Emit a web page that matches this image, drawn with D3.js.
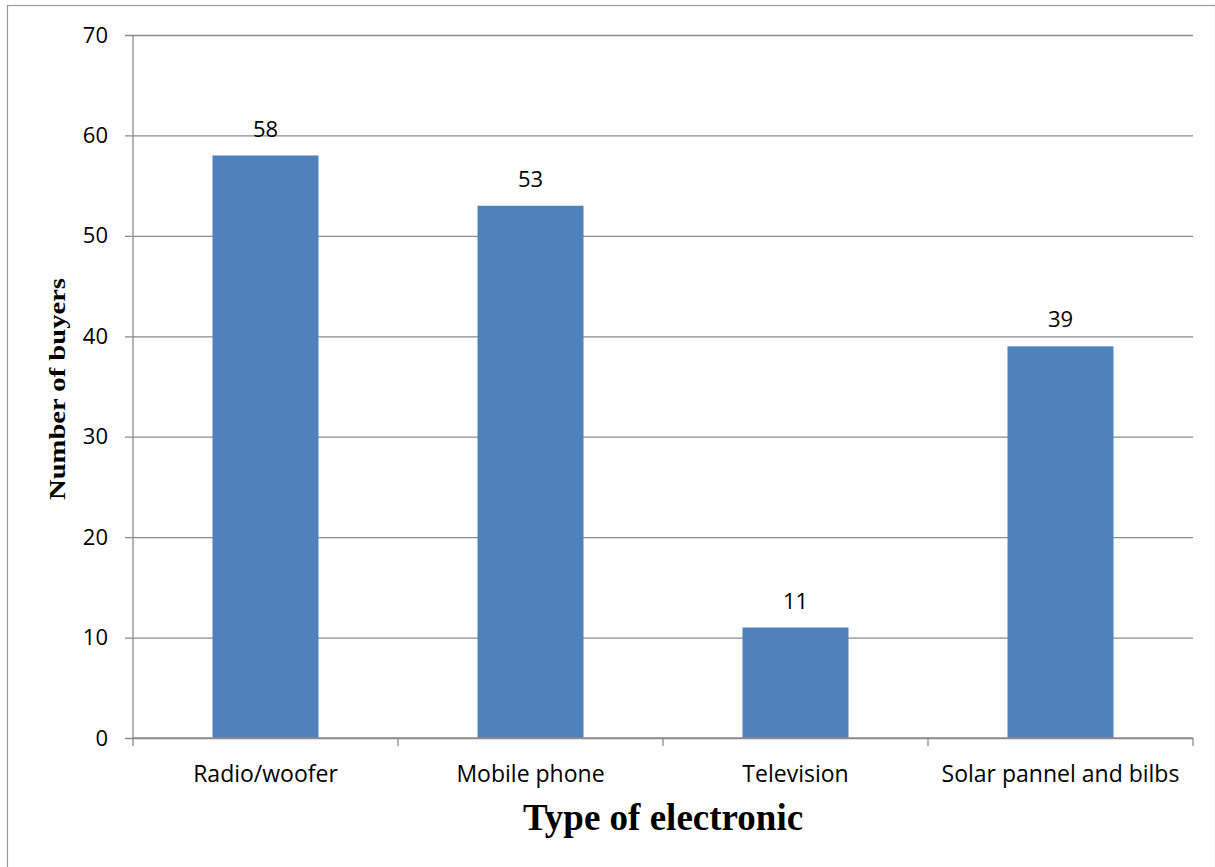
<!DOCTYPE html>
<html>
<head>
<meta charset="utf-8">
<script src="https://cdn.jsdelivr.net/npm/d3@7"></script>
<style>
  html, body { margin: 0; padding: 0; background: #fff; }
  svg { display: block; }
</style>
</head>
<body>
<svg id="chart" width="1215" height="867"></svg>
<script>
// Buyers by type of electronic
const categories = ["Radio/woofer", "Mobile phone", "Television", "Solar pannel and bilbs"];
const buyers = [58, 53, 11, 39];
const yTicks = [0, 10, 20, 30, 40, 50, 60, 70];

const svg = d3.select("#chart");
const W = 1215, H = 867;
const margin = { left: 133, right: 22, top: 35, bottom: 129 };
const plotW = W - margin.left - margin.right;
const plotH = H - margin.top - margin.bottom;

const tickFont = "'Open Sans', Lato, sans-serif";
const serif = "'Liberation Serif', 'Times New Roman', serif";
const gridColor = "#8c8c8c";

// Outer frame
svg.append("rect")
  .attr("x", 7.5).attr("y", 5.5)
  .attr("width", W - 7).attr("height", H)
  .attr("fill", "none").attr("stroke", "#9a9a9a").attr("stroke-width", 1.2);

const g = svg.append("g").attr("transform", `translate(${margin.left},${margin.top})`);

const x = d3.scaleBand().domain(categories).range([0, plotW]).paddingInner(0.6).paddingOuter(0.3);
const xBand = d3.scaleBand().domain(categories).range([0, plotW]);
const y = d3.scaleLinear().domain([0, 70]).range([plotH, 0]);

// Horizontal gridlines with left ticks
const yAxis = d3.axisLeft(y).tickValues(yTicks).tickSize(-plotW).tickPadding(25);
const yg = g.append("g").call(yAxis);
yg.select(".domain").remove();
yg.selectAll(".tick line").attr("stroke", gridColor).attr("stroke-width", 1.3).attr("x1", -8);
yg.selectAll(".tick text")
  .attr("font-family", tickFont).attr("font-size", 22).attr("fill", "#000");

// Vertical axis line
g.append("line").attr("x1", 0).attr("x2", 0).attr("y1", 0).attr("y2", plotH)
  .attr("stroke", gridColor).attr("stroke-width", 1.3);

// Bars
g.selectAll("rect.bar").data(buyers).enter().append("rect")
  .attr("class", "bar")
  .attr("x", (d, i) => x(categories[i]))
  .attr("width", x.bandwidth())
  .attr("y", d => y(d))
  .attr("height", d => plotH - y(d))
  .attr("fill", "#4f81bd");

// Value labels
g.selectAll("text.val").data(buyers).enter().append("text")
  .attr("class", "val")
  .attr("x", (d, i) => x(categories[i]) + x.bandwidth() / 2)
  .attr("y", d => y(d) - 19)
  .attr("text-anchor", "middle")
  .attr("font-family", tickFont).attr("font-size", 22).attr("fill", "#000")
  .text(d => d);

// Category axis with boundary ticks
g.append("line").attr("x1", 0).attr("x2", plotW).attr("y1", plotH).attr("y2", plotH)
  .attr("stroke", gridColor).attr("stroke-width", 1.3);
const bounds = categories.map(c => xBand(c)).concat([plotW]);
g.selectAll("line.xtick").data(bounds).enter().append("line")
  .attr("class", "xtick")
  .attr("x1", d => d).attr("x2", d => d)
  .attr("y1", plotH).attr("y2", plotH + 8)
  .attr("stroke", gridColor).attr("stroke-width", 1.3);
g.selectAll("text.cat").data(categories).enter().append("text")
  .attr("class", "cat")
  .attr("x", d => xBand(d) + xBand.bandwidth() / 2)
  .attr("y", plotH + 44)
  .attr("text-anchor", "middle")
  .attr("font-family", tickFont).attr("font-size", 23).attr("fill", "#000")
  .text(d => d);

// Axis titles
svg.append("text")
  .attr("x", margin.left + plotW / 2).attr("y", 830)
  .attr("text-anchor", "middle")
  .attr("font-family", serif)
  .attr("font-weight", "bold").attr("font-size", 37).attr("fill", "#000")
  .text("Type of electronic");

svg.append("text")
  .attr("transform", `translate(65,389) rotate(-90)`)
  .attr("text-anchor", "middle")
  .attr("font-family", serif)
  .attr("font-weight", "bold").attr("font-size", 24).attr("fill", "#000")
  .attr("textLength", 222).attr("lengthAdjust", "spacingAndGlyphs")
  .text("Number of buyers");
</script>
</body>
</html>
